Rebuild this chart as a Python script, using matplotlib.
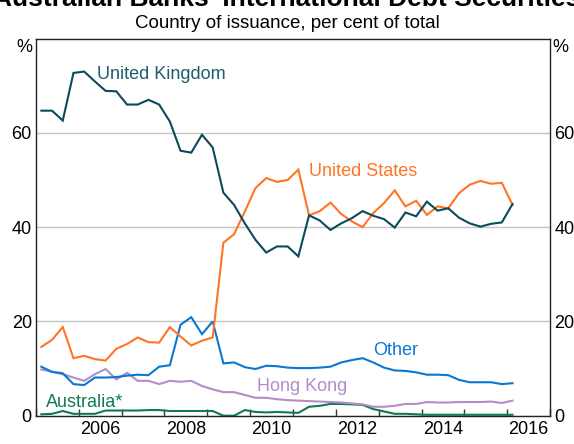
import numpy as np
import pandas as pd
import matplotlib
matplotlib.use("Agg")
import matplotlib.pyplot as plt

plt.rcParams['font.family'] = ['Liberation Sans', 'DejaVu Sans']

# quarterly, 2005Q1 - 2016Q1
quarters = pd.period_range('2005Q1', '2016Q1', freq='Q')

uk = [64.7, 64.7, 62.6, 72.7, 73.0, 70.9, 68.9, 68.8, 66.0, 66.0, 67.0, 66.0, 62.4, 56.2, 55.8,
      59.6, 56.9, 47.3, 44.7, 40.8, 37.3, 34.6, 35.9, 35.9, 33.8, 42.5, 41.4, 39.4, 40.8, 41.9,
      43.4, 42.4, 41.7, 39.9, 43.1, 42.3, 45.4, 43.5, 44.0, 42.0, 40.8, 40.1, 40.7, 41.0, 44.9]
us = [14.6, 16.1, 18.8, 12.2, 12.7, 12.0, 11.7, 14.2, 15.2, 16.6, 15.6, 15.5, 18.8, 16.8, 14.9,
      15.9, 16.6, 36.7, 38.5, 43.3, 48.3, 50.4, 49.6, 50.0, 52.2, 42.5, 43.4, 45.2, 42.8, 41.2,
      40.0, 43.0, 45.1, 47.8, 44.4, 45.6, 42.6, 44.4, 44.0, 47.2, 49.0, 49.8, 49.2, 49.4, 44.7]
other = [10.4, 9.3, 9.0, 6.7, 6.5, 8.1, 8.1, 8.2, 8.5, 8.7, 8.6, 10.4, 10.7, 19.3, 20.9,
         17.3, 20.0, 11.1, 11.3, 10.3, 9.9, 10.6, 10.5, 10.2, 10.1, 10.1, 10.2, 10.4, 11.3, 11.8,
         12.2, 11.3, 10.2, 9.6, 9.5, 9.2, 8.7, 8.7, 8.6, 7.6, 7.1, 7.1, 7.1, 6.7, 6.9]
hong_kong = [9.8, 9.3, 8.8, 8.1, 7.4, 8.8, 9.9, 7.7, 9.1, 7.4, 7.4, 6.7, 7.4, 7.2, 7.4,
             6.3, 5.6, 5.0, 5.0, 4.4, 3.8, 3.8, 3.5, 3.3, 3.2, 3.1, 3.0, 2.9, 2.8, 2.6,
             2.4, 1.9, 1.9, 2.1, 2.5, 2.5, 2.9, 2.8, 2.8, 2.9, 2.9, 2.9, 3.0, 2.7, 3.2]
australia = [0.3, 0.4, 1.0, 0.4, 0.4, 0.4, 1.1, 1.1, 1.1, 1.1, 1.2, 1.2, 1.0, 1.0, 1.0,
             1.0, 1.0, 0.0, 0.0, 1.2, 0.8, 0.7, 0.8, 0.7, 0.6, 1.9, 2.1, 2.5, 2.5, 2.4,
             2.3, 1.4, 0.9, 0.4, 0.4, 0.3, 0.2, 0.2, 0.2, 0.2, 0.2, 0.2, 0.2, 0.2, 0.2]

year_labels = ['2006', '2008', '2010', '2012', '2014', '2016']

# mid-quarter position in decimal years
x = quarters.year + (quarters.quarter - 1) / 4 + 0.125

c_uk = '#0b4a5a'
c_us = '#ff7426'
c_other = '#0a78d2'
c_hk = '#b38cc9'
c_au = '#0e7a57'

fig = plt.figure(figsize=(5.74, 4.44), dpi=100)
ax = fig.add_axes([0.0627, 0.0637, 0.8955, 0.8495])

for vals, col in [(australia, c_au), (hong_kong, c_hk), (other, c_other), (us, c_us), (uk, c_uk)]:
    ax.plot(x, vals, color=col, lw=1.5, solid_joinstyle='miter')

ax.set_xlim(2005, 2017)
ax.set_ylim(0, 80)

ax.set_yticks([0, 20, 40, 60])
ax.grid(axis='y', color='#c4c4c4', lw=1)
ax.set_axisbelow(True)
ax.tick_params(axis='y', length=0, labelsize=13, pad=3,
               labelleft=True, labelright=True, left=False, right=False)

ax.set_xticks(np.arange(2005, 2018))
ax.set_xticklabels([])
ax.tick_params(axis='x', which='major', direction='in', length=5, width=1, color='#333333')
ax.set_xticks([int(y) + 0.5 for y in year_labels], minor=True)
ax.set_xticklabels(year_labels, minor=True)
ax.tick_params(axis='x', which='minor', length=0, labelsize=13, pad=4)

for sp in ax.spines.values():
    sp.set_color('#222222')
    sp.set_linewidth(1)

fig.text(0.042, 0.892, '%', fontsize=13, ha='center', va='center')
fig.text(0.977, 0.892, '%', fontsize=13, ha='center', va='center')

fig.text(0.5, 0.987, "Australian Banks' International Debt Securities", fontsize=19,
         fontweight='bold', ha='center', va='baseline')
fig.text(0.5, 0.948, 'Country of issuance, per cent of total', fontsize=13.5,
         ha='center', va='center')

lab_kw = dict(fontsize=13, va='center', ha='left')
ax.text(2006.43, 72.3, 'United Kingdom', color='#1d5e6c', **lab_kw)
ax.text(2011.38, 51.7, 'United States', color=c_us, **lab_kw)
ax.text(2012.87, 13.8, 'Other', color=c_other, **lab_kw)
ax.text(2010.16, 6.1, 'Hong Kong', color=c_hk, **lab_kw)
ax.text(2005.23, 2.9, 'Australia*', color=c_au, **lab_kw)

fig.savefig('out.png', dpi=100)
